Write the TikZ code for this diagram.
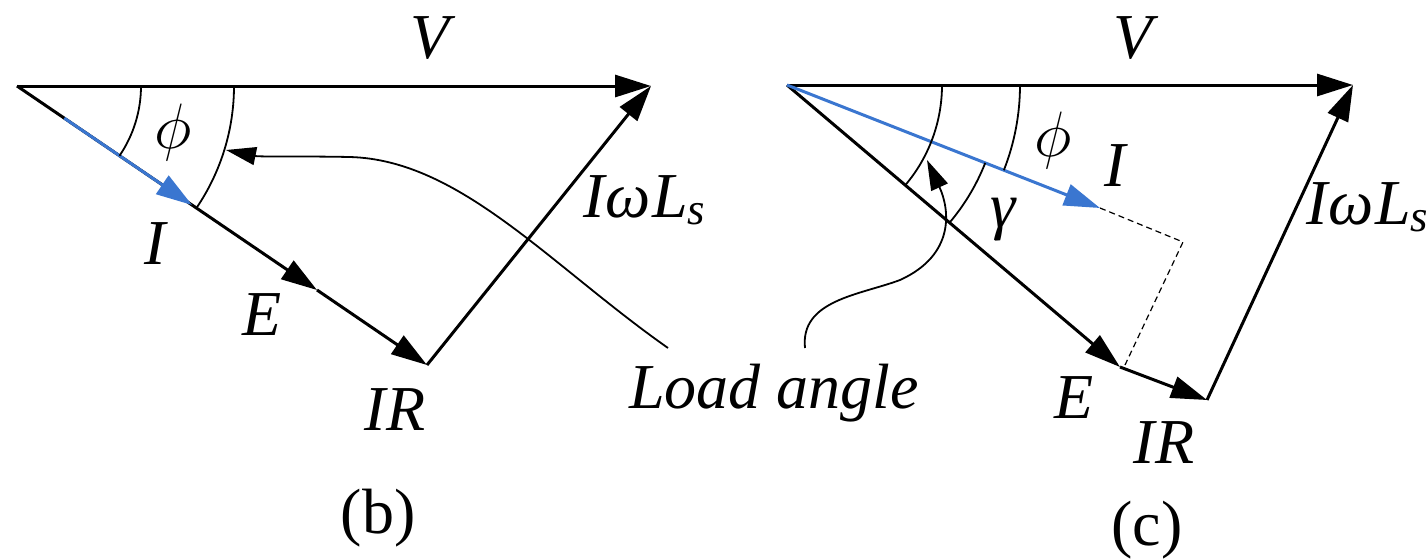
\documentclass[tikz,border=0pt]{standalone}
\usepackage{fontspec}
\setmainfont{Liberation Serif}
\usetikzlibrary{arrows.meta,calc}
\definecolor{ivec}{HTML}{3A76D0}

\begin{document}
\begin{tikzpicture}[x=0.5pt, y=-0.5pt,
  vec/.style={-{Triangle[length=18pt,width=11pt]}, line width=1.5pt},
  curvec/.style={vec, color=ivec},
  arcline/.style={line width=0.9pt},
  pointer/.style={-{Triangle[length=15pt,width=9pt]}, line width=0.9pt},
  guide/.style={line width=0.6pt, dash pattern=on 3pt off 2pt},
  lbl/.style={font=\fontsize{32}{38}\selectfont\itshape, inner sep=0pt},
  anglbl/.style={lbl, scale=1.29},
  capt/.style={font=\fontsize{32}{38}\selectfont, inner sep=0pt}]
  \useasboundingbox (0,0) rectangle (1428,558);
  % (b): E and I in phase
  \coordinate (Ob) at (17,86);
  \coordinate (Vb) at (651,86);
  \coordinate (Ib) at (192,205);
  \coordinate (Eb) at (317,290);
  \coordinate (Rb) at (427,365);
  \draw[vec] (Ob) -- (Vb);
  \draw[vec] (Ob) -- (Eb);
  \draw[vec] (Eb) -- (Rb);
  \draw[curvec] ($(Ob)!0.27!(Ib)$) -- (Ib);
  \draw[vec] (Rb) -- (Vb);
  \draw[arcline] ([shift={(0:62pt)}]Ob) arc[start angle=0, end angle=-34.24, radius=62pt];
  \draw[arcline] ([shift={(0:108.5pt)}]Ob) arc[start angle=0, end angle=-34.24, radius=108.5pt];
  \coordinate (Lb) at (668,348);
  \coordinate (Tb) at (226,150);
  \draw[pointer] (Lb) .. controls (550,265) and (460,160) .. (350,157)
    .. controls (300,156) and (260,157) .. (Tb);
  \node[lbl] (lVb) at (430,38) {V};
  \node[anglbl] (lPb) at (173,132) {$\phi$};
  \node[lbl] (lIb) at (155,244) {I};
  \node[lbl] (lEb) at (262,315) {E};
  \node[lbl] (lRb) at (395,410) {IR};
  \node[lbl] (lXb) at (645,200) {Iω\kern1pt L\textsubscript{s}};
  \node[capt] (cb) at (378,518) {(b)};
  % load angle
  \node[lbl] (load) at (774,393) {Load angle};
  % (c): current leads E
  \coordinate (Oc) at (787,85);
  \coordinate (Vc) at (1353,85);
  \coordinate (Ic) at (1100,208);
  \coordinate (Ec) at (1120,367);
  \coordinate (Rc) at (1207,400);
  \coordinate (Dc) at (1183,242);
  \coordinate (Fc) at (1125,365);
  \draw[vec] (Oc) -- (Vc);
  \draw[vec] (Oc) -- (Ec);
  \draw[vec] (Ec) -- (Rc);
  \draw[curvec] (Oc) -- (Ic);
  \draw[vec] (Rc) -- (Vc);
  \draw[guide] (Ic) -- (Dc) -- (Fc);
  \draw[arcline] ([shift={(0:77.5pt)}]Oc) arc[start angle=0, end angle=-40.26, radius=77.5pt];
  \draw[arcline] ([shift={(0:116.5pt)}]Oc) arc[start angle=0, end angle=-21.45, radius=116.5pt];
  \draw[arcline] ([shift={(-21.45:106.5pt)}]Oc) arc[start angle=-21.45, end angle=-40.26, radius=106.5pt];
  \coordinate (Lc) at (805,348);
  \coordinate (Tc) at (927,160);
  \draw[pointer] (Lc) .. controls (800,300) and (860,295) .. (900,280)
    .. controls (955,255) and (950,210) .. (Tc);
  \node[lbl] (lVc) at (1133,38) {V};
  \node[anglbl] (lPc) at (1053,140) {$\phi$};
  \node[lbl] (lIc) at (1115,166) {I};
  \node[lbl] (lGc) at (1003,220) {γ};
  \node[lbl] (lEc) at (1074,398) {E};
  \node[lbl] (lRc) at (1164,443) {IR};
  \node[lbl] (lXc) at (1368,207) {Iω\kern1pt L\textsubscript{s}};
  \node[capt] (cc) at (1147,530) {(c)};
\end{tikzpicture}
\end{document}
